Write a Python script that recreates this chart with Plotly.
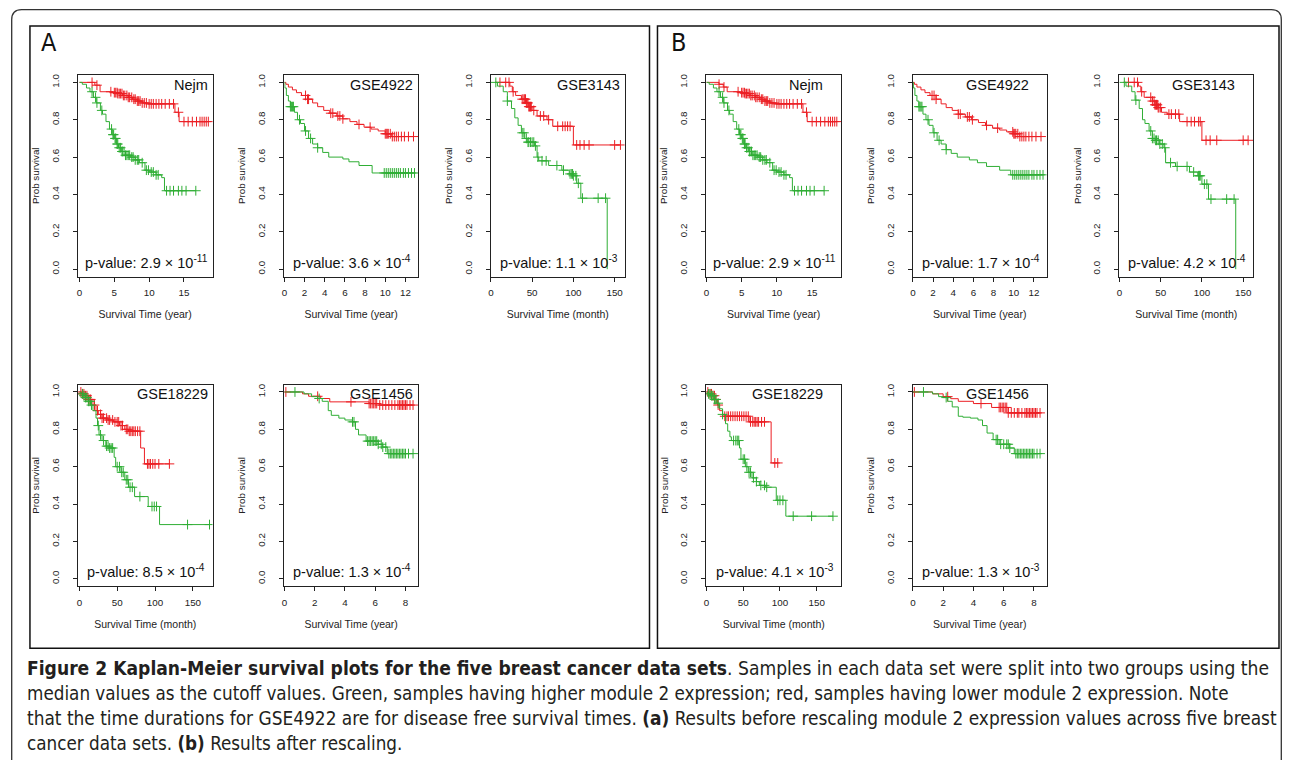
import numpy as np
import plotly.graph_objects as go

# page body has an 8px margin: the figure is drawn at (8, 8)
OFF = 8
W, H = 1290 - 2 * OFF, 768 - 2 * OFF

# ---------------- data ----------------
datasets = ["Nejm", "GSE4922", "GSE3143", "GSE18229", "GSE1456"]
x_units = ["year", "year", "month", "month", "year"]

pval_A_mant = ["2.9", "3.6", "1.1", "8.5", "1.3"]
pval_A_exp = ["-11", "-4", "-3", "-4", "-4"]
pval_B_mant = ["2.9", "1.7", "4.2", "4.1", "1.3"]
pval_B_exp = ["-11", "-4", "-4", "-3", "-3"]

y_ticks = [0.0, 0.2, 0.4, 0.6, 0.8, 1.0]
y_tick_labels = ["0.0", "0.2", "0.4", "0.6", "0.8", "1.0"]
x_ticks_nejm = [0, 5, 10, 15]
x_ticks_gse4922 = [0, 2, 4, 6, 8, 10, 12]
x_ticks_gse3143 = [0, 50, 100, 150]
x_ticks_gse18229 = [0, 50, 100, 150]
x_ticks_gse1456 = [0, 2, 4, 6, 8]

# --- Nejm (A) ---
nejm_a_red_t = [0, 2.2, 2.95, 4.8, 5.5, 6.2, 7.0, 7.6, 8.3, 9.0, 9.8, 13.7, 14.3]
nejm_a_red_s = [1.0, 0.985, 0.95, 0.945, 0.94, 0.93, 0.92, 0.91, 0.90, 0.89, 0.885, 0.84, 0.79]
nejm_a_red_c = [1.8, 2.5, 4.5, 5.0, 5.2, 5.4, 5.5, 5.7, 5.9, 6.1, 6.3, 6.5, 6.8, 7.0, 7.2, 7.5, 7.8,
                8.0, 8.3, 8.5, 8.7, 9.0, 9.3, 9.6, 10.0, 10.3, 10.6, 11.0, 11.4, 11.8, 12.3, 12.9,
                13.5, 14.2, 15.0, 15.6, 16.2, 16.8, 17.3, 17.6, 17.9, 18.2, 18.5]
nejm_a_grn_t = [0, 0.4, 1.0, 1.5, 2.0, 2.4, 3.0, 3.3, 3.8, 4.3, 4.7, 5.0, 5.3, 5.6, 6.0, 6.6, 7.3,
                8.0, 8.6, 9.4, 10.0, 11.0, 11.8, 12.2]
nejm_a_grn_s = [1.0, 0.99, 0.97, 0.95, 0.92, 0.89, 0.85, 0.83, 0.79, 0.75, 0.72, 0.70, 0.67, 0.65,
                0.63, 0.61, 0.60, 0.585, 0.57, 0.53, 0.52, 0.505, 0.49, 0.42]
nejm_a_grn_c = [1.8, 2.3, 2.5, 3.2, 4.6, 4.8, 4.9, 5.1, 5.2, 5.4, 5.5, 5.7, 5.9, 6.1, 6.2, 6.4, 6.6,
                6.8, 7.0, 7.2, 7.5, 7.7, 8.0, 8.3, 8.5, 9.0, 9.6, 9.9, 10.3, 10.6, 11.0, 11.3,
                12.5, 13.0, 13.5, 14.2, 14.7, 15.3, 16.7]

# --- Nejm (B) ---
nejm_b_red_t = [0, 1.8, 2.4, 2.95, 4.8, 5.5, 6.2, 7.0, 7.6, 8.3, 9.0, 9.8, 13.7, 14.3]
nejm_b_red_s = [1.0, 0.99, 0.975, 0.95, 0.945, 0.94, 0.93, 0.92, 0.91, 0.90, 0.89, 0.885, 0.84, 0.79]
nejm_b_red_c = [1.8, 2.5, 4.5, 5.0, 5.2, 5.4, 5.5, 5.7, 5.9, 6.1, 6.3, 6.5, 6.8, 7.0, 7.2, 7.5, 7.8,
                8.0, 8.3, 8.5, 8.7, 9.0, 9.3, 9.6, 10.0, 10.3, 10.6, 11.0, 11.4, 11.8, 12.3, 12.9,
                13.5, 14.2, 15.0, 15.6, 16.2, 16.8, 17.3, 17.6, 17.9, 18.2, 18.5]
nejm_b_grn_t = [0, 0.4, 1.0, 1.5, 2.0, 2.4, 3.0, 3.3, 3.8, 4.3, 4.7, 5.0, 5.3, 5.6, 6.0, 6.6, 7.3,
                8.0, 8.6, 9.4, 10.0, 11.0, 11.8, 12.2]
nejm_b_grn_s = [1.0, 0.99, 0.97, 0.95, 0.92, 0.89, 0.85, 0.83, 0.79, 0.75, 0.72, 0.70, 0.67, 0.65,
                0.63, 0.61, 0.60, 0.585, 0.57, 0.53, 0.52, 0.505, 0.49, 0.42]
nejm_b_grn_c = [1.8, 2.3, 2.5, 3.2, 4.6, 4.8, 4.9, 5.1, 5.2, 5.4, 5.5, 5.7, 5.9, 6.1, 6.2, 6.4, 6.6,
                6.8, 7.0, 7.2, 7.5, 7.7, 8.0, 8.3, 8.5, 9.0, 9.6, 9.9, 10.3, 10.6, 11.0, 11.3,
                12.5, 13.0, 13.5, 14.2, 14.7, 15.3, 16.7]

# --- GSE4922 (A) ---
gse4922_a_red_t = [0, 0.15, 0.4, 0.8, 1.2, 1.7, 2.3, 2.8, 3.3, 3.9, 4.5, 5.2, 5.8, 6.5, 7.2, 7.9,
                   8.6, 9.3, 10.0, 10.6]
gse4922_a_red_s = [1.0, 0.99, 0.975, 0.96, 0.945, 0.93, 0.91, 0.89, 0.87, 0.85, 0.835, 0.82, 0.805,
                   0.79, 0.775, 0.76, 0.75, 0.74, 0.725, 0.71]
gse4922_a_red_c = [2.1, 2.3, 2.4, 4.6, 4.8, 5.3, 5.5, 5.8, 7.4, 8.5, 10.0, 10.1, 10.2, 10.3, 10.5,
                   10.7, 10.9, 11.1, 11.3, 11.6, 11.9, 12.3, 12.8]
gse4922_a_grn_t = [0, 0.05, 0.2, 0.4, 0.6, 1.0, 1.3, 1.6, 2.0, 2.4, 2.8, 3.3, 3.8, 4.4, 5.8, 6.4,
                   7.4, 8.7]
gse4922_a_grn_s = [1.0, 0.97, 0.93, 0.90, 0.87, 0.84, 0.80, 0.78, 0.74, 0.70, 0.67, 0.65, 0.625,
                   0.60, 0.59, 0.575, 0.555, 0.515]
gse4922_a_grn_c = [0.6, 0.7, 0.8, 0.9, 1.5, 2.1, 2.6, 3.3, 9.9, 10.1, 10.3, 10.5, 10.7, 10.9, 11.1,
                   11.3, 11.5, 11.8, 12.0, 12.3, 12.6, 12.9]

# --- GSE4922 (B) ---
gse4922_b_red_t = [0, 0.15, 0.4, 0.8, 1.2, 1.7, 2.3, 2.8, 3.3, 3.9, 4.5, 5.2, 5.8, 6.5, 7.2, 7.9,
                   8.6, 9.3, 10.0, 10.6]
gse4922_b_red_s = [1.0, 0.99, 0.975, 0.96, 0.945, 0.93, 0.91, 0.885, 0.865, 0.85, 0.83, 0.815, 0.80,
                   0.785, 0.77, 0.755, 0.745, 0.735, 0.725, 0.71]
gse4922_b_red_c = [1.9, 2.1, 2.3, 4.5, 4.7, 5.4, 5.6, 5.9, 7.3, 8.4, 9.9, 10.0, 10.1, 10.2, 10.4,
                   10.6, 10.8, 11.0, 11.2, 11.5, 11.8, 12.2, 12.7]
gse4922_b_grn_t = [0, 0.05, 0.2, 0.4, 0.6, 1.0, 1.3, 1.6, 2.0, 2.4, 2.8, 3.3, 3.8, 4.4, 5.6, 6.4,
                   7.3, 8.6, 9.7]
gse4922_b_grn_s = [1.0, 0.97, 0.93, 0.90, 0.87, 0.83, 0.80, 0.77, 0.73, 0.69, 0.67, 0.64, 0.62,
                   0.60, 0.585, 0.57, 0.55, 0.53, 0.505]
gse4922_b_grn_c = [0.6, 0.7, 0.8, 0.9, 1.5, 2.1, 2.6, 3.3, 9.9, 10.1, 10.3, 10.5, 10.7, 10.9, 11.1,
                   11.3, 11.5, 11.8, 12.0, 12.3, 12.6, 12.9]

# --- GSE3143 (A) ---
gse3143_a_red_t = [5, 23, 26, 30, 37, 43, 46, 50, 56, 68, 75, 100]
gse3143_a_red_s = [1.0, 0.98, 0.95, 0.93, 0.91, 0.89, 0.87, 0.85, 0.82, 0.80, 0.765, 0.665]
gse3143_a_red_c = [11, 18, 22, 27, 38, 40, 41, 42, 43, 44, 45, 46, 47, 48, 49, 52, 60, 64, 70, 81,
                   87, 90, 93, 96, 104, 108, 113, 119, 150, 157]
gse3143_a_grn_t = [5, 8, 15, 20, 25, 29, 33, 37, 41, 44, 53, 56, 58, 70, 86, 95, 100, 104, 109, 141]
gse3143_a_grn_s = [1.0, 0.98, 0.95, 0.90, 0.86, 0.81, 0.77, 0.73, 0.70, 0.68, 0.66, 0.60, 0.58,
                   0.555, 0.53, 0.51, 0.50, 0.46, 0.38, 0.0]
gse3143_a_grn_c = [6, 20, 38, 40, 43, 45, 46, 48, 50, 52, 54, 57, 62, 67, 80, 88, 96, 98, 99, 100,
                   103, 106, 111, 130, 139]

# --- GSE3143 (B) ---
gse3143_b_red_t = [5, 23, 26, 30, 40, 43, 47, 51, 58, 73, 100]
gse3143_b_red_s = [1.0, 0.98, 0.95, 0.92, 0.90, 0.88, 0.865, 0.84, 0.83, 0.79, 0.69]
gse3143_b_red_c = [11, 18, 22, 27, 38, 40, 42, 43, 44, 45, 46, 47, 48, 50, 60, 63, 68, 72, 82, 87,
                   91, 96, 98, 105, 110, 118, 150, 156]
gse3143_b_grn_t = [5, 8, 15, 19, 24, 28, 31, 36, 40, 44, 49, 54, 56, 68, 85, 95, 100, 108, 141]
gse3143_b_grn_s = [1.0, 0.98, 0.95, 0.905, 0.86, 0.80, 0.78, 0.74, 0.70, 0.69, 0.67, 0.65, 0.57,
                   0.55, 0.52, 0.50, 0.455, 0.375, 0.0]
gse3143_b_grn_c = [6, 20, 38, 40, 42, 44, 45, 47, 49, 52, 55, 62, 70, 82, 90, 96, 97, 98, 103, 106,
                   111, 130, 139]

# --- GSE18229 (A) ---
gse18229_a_red_t = [0, 3, 8, 12, 18, 22, 25, 30, 38, 45, 53, 60, 65, 81, 86]
gse18229_a_red_s = [1.0, 0.99, 0.98, 0.96, 0.93, 0.90, 0.88, 0.86, 0.85, 0.84, 0.82, 0.80, 0.79,
                    0.70, 0.615]
gse18229_a_red_c = [2, 4, 6, 8, 10, 12, 14, 15, 20, 24, 28, 30, 32, 36, 38, 40, 44, 47, 50, 52, 55,
                    57, 62, 64, 66, 68, 70, 72, 74, 77, 80, 90, 92, 94, 97, 100, 105, 119]
gse18229_a_grn_t = [0, 2, 5, 8, 12, 15, 18, 22, 24, 26, 30, 35, 40, 46, 48, 55, 60, 65, 73, 91, 106]
gse18229_a_grn_s = [1.0, 0.99, 0.98, 0.97, 0.95, 0.93, 0.90, 0.86, 0.82, 0.77, 0.74, 0.71, 0.70,
                    0.65, 0.60, 0.57, 0.53, 0.49, 0.44, 0.387, 0.29]
gse18229_a_grn_c = [4, 6, 8, 10, 12, 14, 16, 25, 28, 32, 36, 38, 40, 42, 44, 50, 53, 56, 58, 62, 64,
                    67, 70, 80, 96, 99, 102, 143, 172]

# --- GSE18229 (B) ---
gse18229_b_red_t = [0, 3, 8, 12, 15, 18, 22, 58, 88]
gse18229_b_red_s = [1.0, 0.99, 0.98, 0.96, 0.93, 0.90, 0.87, 0.84, 0.62]
gse18229_b_red_c = [2, 5, 7, 9, 11, 13, 16, 25, 28, 30, 33, 36, 39, 42, 45, 48, 51, 54, 57, 60, 63,
                    65, 67, 69, 71, 75, 79, 93, 97]
gse18229_b_grn_t = [0, 2, 6, 10, 14, 18, 22, 26, 29, 32, 34, 45, 47, 53, 57, 62, 68, 72, 80, 95, 108]
gse18229_b_grn_s = [1.0, 0.99, 0.98, 0.96, 0.94, 0.91, 0.88, 0.83, 0.79, 0.76, 0.74, 0.70, 0.64,
                    0.60, 0.57, 0.54, 0.52, 0.50, 0.49, 0.42, 0.335]
gse18229_b_grn_c = [3, 5, 7, 9, 11, 13, 16, 22, 37, 40, 42, 44, 50, 52, 55, 58, 60, 64, 68, 74, 79,
                    82, 97, 100, 104, 118, 143, 172]

# --- GSE1456 (A) ---
gse1456_a_red_t = [0, 1.2, 1.6, 2.4, 3.0, 5.6, 6.3]
gse1456_a_red_s = [1.0, 0.99, 0.977, 0.965, 0.947, 0.938, 0.93]
gse1456_a_red_c = [0.1, 2.2, 4.4, 5.6, 5.7, 5.8, 5.9, 6.0, 6.1, 6.3, 6.5, 6.7, 6.9, 7.1, 7.3, 7.5,
                   7.6, 7.7, 7.8, 7.9, 8.0, 8.1, 8.3, 8.5]
gse1456_a_grn_t = [0, 1.3, 1.8, 2.2, 2.5, 2.9, 3.1, 3.6, 4.0, 4.5, 4.7, 4.9, 5.4, 6.2, 6.5, 6.8]
gse1456_a_grn_s = [1.0, 0.99, 0.975, 0.965, 0.95, 0.90, 0.875, 0.86, 0.85, 0.84, 0.80, 0.77, 0.737,
                   0.72, 0.705, 0.67]
gse1456_a_grn_c = [0.7, 2.3, 4.5, 4.6, 5.5, 5.6, 5.7, 5.8, 5.9, 6.0, 6.1, 6.2, 6.4, 6.5, 6.7, 6.9,
                   7.0, 7.1, 7.2, 7.3, 7.4, 7.5, 7.6, 7.7, 7.8, 7.9, 8.0, 8.2, 8.5]

# --- GSE1456 (B) ---
gse1456_b_red_t = [0, 1.3, 2.0, 2.5, 3.0, 4.0, 5.2, 6.3]
gse1456_b_red_s = [1.0, 0.99, 0.975, 0.964, 0.95, 0.938, 0.917, 0.888]
gse1456_b_red_c = [0.1, 2.3, 4.5, 5.7, 5.8, 5.9, 6.0, 6.1, 6.2, 6.3, 6.5, 6.7, 6.9, 7.0, 7.2, 7.4,
                   7.5, 7.6, 7.7, 7.8, 7.9, 8.0, 8.1, 8.2, 8.4]
gse1456_b_grn_t = [0, 1.3, 1.7, 2.0, 2.3, 2.6, 3.0, 3.3, 3.8, 4.3, 4.6, 4.9, 5.3, 5.7, 6.4, 6.7]
gse1456_b_grn_s = [1.0, 0.99, 0.975, 0.97, 0.95, 0.92, 0.87, 0.865, 0.86, 0.85, 0.82, 0.78, 0.745,
                   0.72, 0.70, 0.67]
gse1456_b_grn_c = [0.7, 2.2, 5.5, 5.6, 5.8, 6.0, 6.2, 6.3, 6.4, 6.8, 6.9, 7.0, 7.1, 7.2, 7.3, 7.4,
                   7.5, 7.6, 7.7, 7.8, 7.9, 8.0, 8.2, 8.4]

caption_lines = [
    ("<b>Figure 2 Kaplan-Meier survival plots for the five breast cancer data sets</b>. "
     "Samples in each data set were split into two groups using the"),
    ("median values as the cutoff values. Green, samples having higher module 2 expression; "
     "red, samples having lower module 2 expression. Note"),
    ("that the time durations for GSE4922 are for disease free survival times. <b>(a)</b> "
     "Results before rescaling module 2 expression values across five breast"),
    "cancer data sets. <b>(b)</b> Results after rescaling.",
]
caption_sizes = [19.1, 18.7, 18.9, 18.7]

# ---------------- layout / styling ----------------
RED = "#EC1F24"
GREEN = "#2FAE35"
AXC = "#222222"
FONT = "Liberation Sans, Arial, sans-serif"
CAPFONT = "Liberation Sans Narrow, DejaVu Sans Condensed, Roboto Condensed, Liberation Sans, sans-serif"

rows_top = [74, 384]
box_h = 202
cols_A = [(75, 210), (282, 416), (489, 623)]
cols_B = [(705, 840), (912, 1046), (1119, 1253)]

panels = [
    ("A", 0, cols_A[0], 0, [-0.24, 19.1], x_ticks_nejm,
     (nejm_a_red_t, nejm_a_red_s, nejm_a_red_c), (nejm_a_grn_t, nejm_a_grn_s, nejm_a_grn_c)),
    ("A", 1, cols_A[1], 0, [0, 13.25], x_ticks_gse4922,
     (gse4922_a_red_t, gse4922_a_red_s, gse4922_a_red_c), (gse4922_a_grn_t, gse4922_a_grn_s, gse4922_a_grn_c)),
    ("A", 2, cols_A[2], 0, [0, 162], x_ticks_gse3143,
     (gse3143_a_red_t, gse3143_a_red_s, gse3143_a_red_c), (gse3143_a_grn_t, gse3143_a_grn_s, gse3143_a_grn_c)),
    ("A", 3, cols_A[0], 1, [-2, 176], x_ticks_gse18229,
     (gse18229_a_red_t, gse18229_a_red_s, gse18229_a_red_c), (gse18229_a_grn_t, gse18229_a_grn_s, gse18229_a_grn_c)),
    ("A", 4, cols_A[1], 1, [0, 8.83], x_ticks_gse1456,
     (gse1456_a_red_t, gse1456_a_red_s, gse1456_a_red_c), (gse1456_a_grn_t, gse1456_a_grn_s, gse1456_a_grn_c)),
    ("B", 0, cols_B[0], 0, [0, 19.1], x_ticks_nejm,
     (nejm_b_red_t, nejm_b_red_s, nejm_b_red_c), (nejm_b_grn_t, nejm_b_grn_s, nejm_b_grn_c)),
    ("B", 1, cols_B[1], 0, [0, 13.25], x_ticks_gse4922,
     (gse4922_b_red_t, gse4922_b_red_s, gse4922_b_red_c), (gse4922_b_grn_t, gse4922_b_grn_s, gse4922_b_grn_c)),
    ("B", 2, cols_B[2], 0, [0, 162], x_ticks_gse3143,
     (gse3143_b_red_t, gse3143_b_red_s, gse3143_b_red_c), (gse3143_b_grn_t, gse3143_b_grn_s, gse3143_b_grn_c)),
    ("B", 3, cols_B[0], 1, [0, 183], x_ticks_gse18229,
     (gse18229_b_red_t, gse18229_b_red_s, gse18229_b_red_c), (gse18229_b_grn_t, gse18229_b_grn_s, gse18229_b_grn_c)),
    ("B", 4, cols_B[1], 1, [0, 8.83], x_ticks_gse1456,
     (gse1456_b_red_t, gse1456_b_red_s, gse1456_b_red_c), (gse1456_b_grn_t, gse1456_b_grn_s, gse1456_b_grn_c)),
]


def km_xy(t, s, c):
    t = np.asarray(t, float)
    s = np.asarray(s, float)
    c = np.asarray(c, float)
    end = max(t[-1], c.max())
    x = np.append(t, end)
    y = np.append(s, s[-1])
    idx = np.clip(np.searchsorted(t, c, side="right") - 1, 0, None)
    return x, y, c, s[idx]


def px(xp):
    return (xp - OFF) / W


def py(yp):
    return 1 - (yp - OFF) / H


fig = go.Figure()
layout_axes = {}
annotations = []

for k, (pan, di, (bl, br), row, xr, xt, red, grn) in enumerate(panels, start=1):
    bt = rows_top[row]
    bb = bt + box_h
    xa = "x" if k == 1 else f"x{k}"
    ya = "y" if k == 1 else f"y{k}"
    for (t, s, c), col in ((red, RED), (grn, GREEN)):
        x, y, cx, cy = km_xy(t, s, c)
        fig.add_trace(go.Scatter(x=x, y=y, mode="lines", line=dict(color=col, width=1, shape="hv"),
                                 xaxis=xa, yaxis=ya, showlegend=False, hoverinfo="skip"))
        fig.add_trace(go.Scatter(x=cx, y=cy, mode="markers",
                                 marker=dict(symbol="cross-thin", size=7, line=dict(color=col, width=1)),
                                 xaxis=xa, yaxis=ya, showlegend=False, hoverinfo="skip"))
    common = dict(showline=True, mirror=True, linecolor=AXC, linewidth=1, ticks="outside",
                  ticklen=4, tickwidth=1, tickcolor=AXC, showgrid=False, zeroline=False,
                  tickfont=dict(family=FONT, size=9.8, color="#222"))
    layout_axes["xaxis" if k == 1 else f"xaxis{k}"] = dict(
        domain=[px(bl), px(br)], range=xr, tickvals=xt, anchor=ya, ticklabelstandoff=3,
        title=dict(text=f"Survival Time ({x_units[di]})", standoff=13,
                   font=dict(family=FONT, size=10.5, color="#222")), **common)
    layout_axes["yaxis" if k == 1 else f"yaxis{k}"] = dict(
        domain=[py(bb), py(bt)], range=[-0.04, 1.04], tickvals=y_ticks, ticktext=y_tick_labels,
        tickangle=-90, anchor=xa, ticklabelstandoff=10,
        title=dict(text="Prob survival", standoff=8, font=dict(family=FONT, size=9.8, color="#222")),
        **common)

    toff = 3 if pan == "A" else 16
    annotations.append(dict(text=datasets[di], x=px(br - toff), y=py(bt + 10), xref="paper", yref="paper",
                            xanchor="right", yanchor="middle", showarrow=False,
                            font=dict(family=FONT, size=14.5, color="#111")))
    mant = pval_A_mant[di] if pan == "A" else pval_B_mant[di]
    ex = pval_A_exp[di] if pan == "A" else pval_B_exp[di]
    annotations.append(dict(text=f"p-value: {mant} × 10<sup>{ex}</sup>", x=px((bl + br) / 2 + 1),
                            y=py(bb - 15), xref="paper", yref="paper", xanchor="center", yanchor="middle",
                            showarrow=False, font=dict(family=FONT, size=14.5, color="#111")))

for lab, xp in (("A", 46), ("B", 677)):
    annotations.append(dict(text=lab, x=px(xp), y=py(42), xref="paper", yref="paper", xanchor="center",
                            yanchor="middle", showarrow=False, font=dict(family=CAPFONT, size=25, color="#111")))

for i, line in enumerate(caption_lines):
    annotations.append(dict(text=line, x=px(22), y=py(668 + 25 * i), xref="paper", yref="paper",
                            xanchor="left", yanchor="middle", showarrow=False, align="left",
                            font=dict(family=CAPFONT, size=caption_sizes[i], color="#231F20")))

r = 10
x0, y0, x1, y1 = 8.7, 8.7, 1281.3, 800
path = (f"M {px(x0)},{py(y0 + r)} Q {px(x0)},{py(y0)} {px(x0 + r)},{py(y0)} "
        f"L {px(x1 - r)},{py(y0)} Q {px(x1)},{py(y0)} {px(x1)},{py(y0 + r)} "
        f"L {px(x1)},{py(y1)} L {px(x0)},{py(y1)} Z")
shapes = [dict(type="path", path=path, xref="paper", yref="paper", line=dict(color="#333", width=1.3)),
          dict(type="rect", x0=px(27), x1=px(648), y0=py(648), y1=py(25), xref="paper", yref="paper",
               line=dict(color="#111", width=1.5)),
          dict(type="rect", x0=px(656), x1=px(1279), y0=py(648), y1=py(25), xref="paper", yref="paper",
               line=dict(color="#111", width=1.5))]

fig.update_layout(width=W, height=H, margin=dict(l=0, r=0, t=0, b=0), paper_bgcolor="white",
                  plot_bgcolor="white", showlegend=False, annotations=annotations, shapes=shapes,
                  **layout_axes)

fig.write_html("out.html")
